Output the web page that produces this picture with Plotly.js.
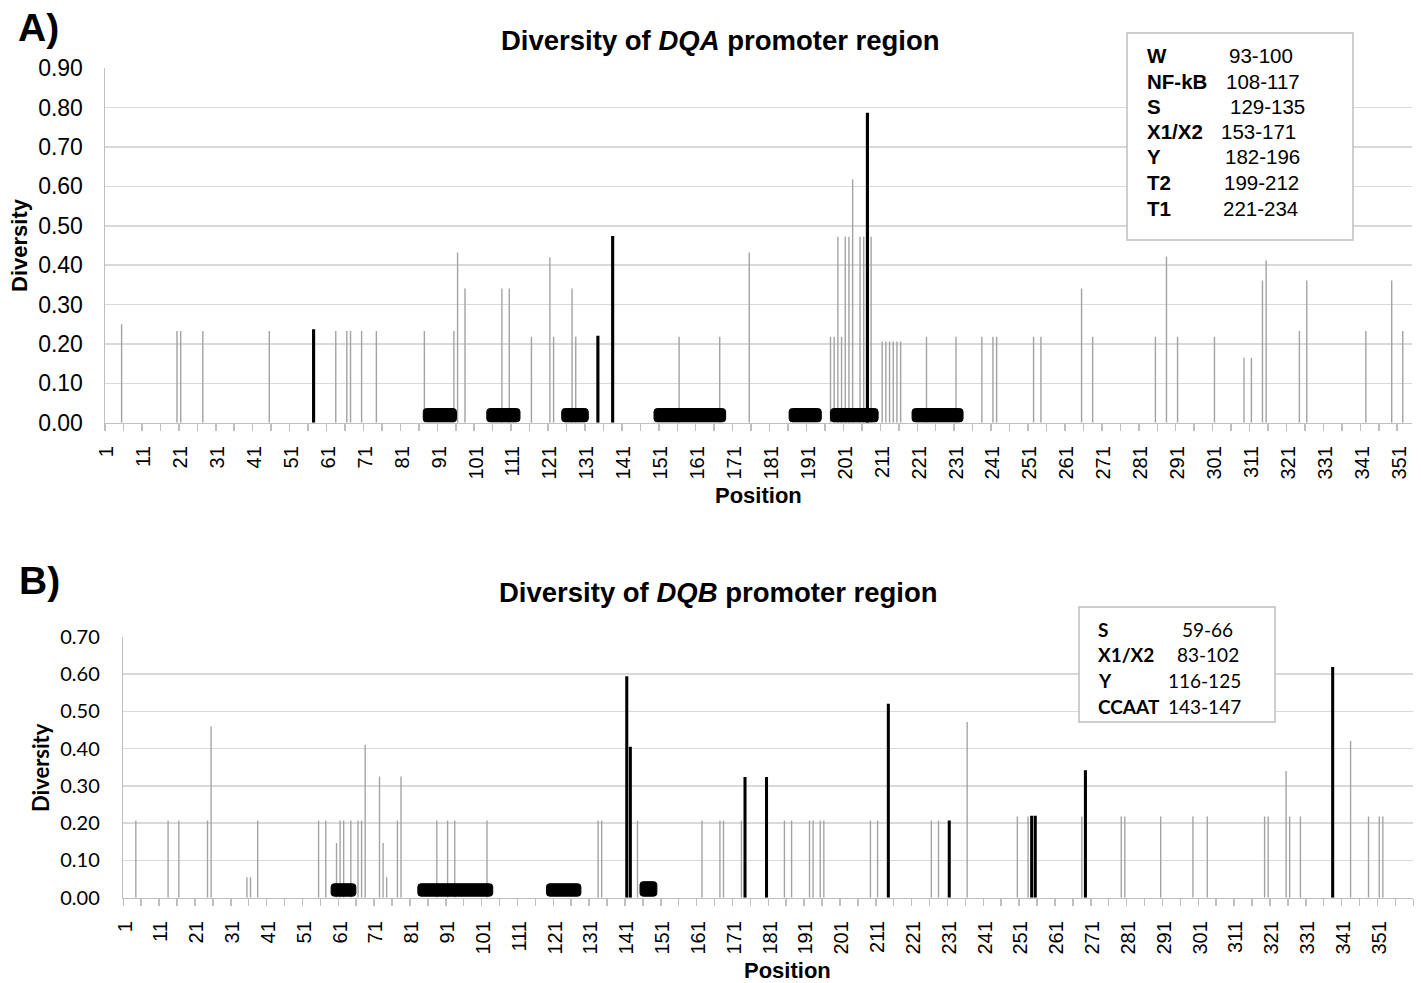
<!DOCTYPE html>
<html>
<head>
<meta charset="utf-8">
<script src="https://cdn.plot.ly/plotly-3.0.1.min.js"></script>
<style>html,body{margin:0;padding:0;background:#fff;}#chart{width:1421px;height:983px;}</style>
</head>
<body>
<div id="chart"></div>
<script>
// ---------- DATA: Panel A (DQA) ----------
const dqaPos = [5,20,21,27,45,63,66,67,70,74,87,95,96,98,108,110,116,121,122,127,128,156,167,175,197,198,199,200,201,202,203,205,206,208,211,212,213,214,215,216,223,231,238,241,242,252,254,265,268,285,288,291,301,309,311,314,315,324,326,342,349,352];
const dqaVal = [0.25,0.233,0.233,0.233,0.233,0.233,0.233,0.233,0.233,0.233,0.233,0.233,0.432,0.341,0.341,0.341,0.218,0.42,0.218,0.341,0.218,0.218,0.218,0.432,0.218,0.218,0.472,0.218,0.472,0.472,0.618,0.472,0.472,0.472,0.206,0.206,0.206,0.206,0.206,0.206,0.218,0.218,0.218,0.218,0.218,0.218,0.218,0.341,0.218,0.218,0.422,0.218,0.218,0.165,0.165,0.361,0.412,0.233,0.361,0.233,0.361,0.233];
const dqaHiPos = [57,134,138,207];
const dqaHiVal = [0.237,0.221,0.474,0.787];
const dqaBoxStart = [86.7,103.9,124.2,149.2,185.8,197.0,219.1];
const dqaBoxEnd   = [95.7,112.9,131.4,168.6,194.5,209.9,232.9];
const dqaElements = ["W","NF-kB","S","X1/X2","Y","T2","T1"];
const dqaRanges   = ["93-100","108-117","129-135","153-171","182-196","199-212","221-234"];

// ---------- DATA: Panel B (DQB) ----------
const dqbPos = [4,13,16,24,25,35,36,38,55,57,60,61,62,64,66,67,68,72,73,74,77,78,88,91,93,102,133,134,144,162,167,168,173,185,187,192,193,195,196,209,211,226,228,236,250,253,268,279,280,290,299,303,319,320,325,326,329,343,348,351,352];
const dqbVal = [0.207,0.207,0.207,0.207,0.46,0.055,0.055,0.207,0.207,0.207,0.147,0.207,0.207,0.207,0.207,0.207,0.41,0.325,0.147,0.055,0.207,0.325,0.207,0.207,0.207,0.207,0.207,0.207,0.207,0.207,0.207,0.207,0.207,0.207,0.207,0.207,0.207,0.207,0.207,0.207,0.207,0.207,0.207,0.471,0.218,0.218,0.218,0.218,0.218,0.218,0.218,0.218,0.218,0.218,0.34,0.218,0.218,0.42,0.218,0.218,0.218];
const dqbHiPos = [141,142,174,180,214,231,254,255,269,338];
const dqbHiVal = [0.594,0.405,0.3235,0.3235,0.52,0.207,0.22,0.22,0.342,0.619];
const dqbBoxStart = [58.5,82.7,118.6,144.7];
const dqbBoxEnd   = [65.4,103.6,128.2,149.4];
const dqbElements = ["S","X1/X2","Y","CCAAT"];
const dqbRanges   = ["59-66","83-102","116-125","143-147"];

// ---------- tick labels ----------
const posTickVals = [1,11,21,31,41,51,61,71,81,91,101,111,121,131,141,151,161,171,181,191,201,211,221,231,241,251,261,271,281,291,301,311,321,331,341,351];
const posTickText = posTickVals.map(String);

// ---------- helpers ----------
const W = 1421, H = 983;
const fx = x => x / W;
const fy = y => 1 - y / H;
const ARIAL = "Liberation Sans, Arial, sans-serif";
const CAL = "Lato, Open Sans, sans-serif";
const GRAY = "#a3a3a3";
const GRID = "#d9d9d9";
const AXL = "#bfbfbf";

function roundedBox(xa, ya, x0, x1, y0, y1, rx, ry) {
  const p = `M ${x0+rx},${y0} L ${x1-rx},${y0} Q ${x1},${y0} ${x1},${y0+ry} L ${x1},${y1-ry} Q ${x1},${y1} ${x1-rx},${y1} L ${x0+rx},${y1} Q ${x0},${y1} ${x0},${y1-ry} L ${x0},${y0+ry} Q ${x0},${y0} ${x0+rx},${y0} Z`;
  return {type:'path', xref:xa, yref:ya, path:p, fillcolor:'#000', line:{color:'#000', width:1}, layer:'above'};
}

const traces = [
  {type:'bar', x:dqaPos, y:dqaVal, width:0.38, marker:{color:GRAY, line:{width:0}}, xaxis:'x', yaxis:'y', hoverinfo:'x+y'},
  {type:'bar', x:dqaHiPos, y:dqaHiVal, width:0.85, marker:{color:'#000', line:{width:0}}, xaxis:'x', yaxis:'y', hoverinfo:'x+y'},
  {type:'bar', x:dqbPos, y:dqbVal, width:0.38, marker:{color:GRAY, line:{width:0}}, xaxis:'x2', yaxis:'y2', hoverinfo:'x+y'},
  {type:'bar', x:dqbHiPos, y:dqbHiVal, width:0.85, marker:{color:'#000', line:{width:0}}, xaxis:'x2', yaxis:'y2', hoverinfo:'x+y'}
];

function xAxis(domain, range, anchor) {
  return {
    domain: domain, range: range, anchor: anchor,
    tickmode:'array', tickvals: posTickVals, ticktext: posTickText,
    tickangle: -90, ticks: '', ticklabelstandoff: 14,
    tickfont: {family: ARIAL, size: 20, color:'#000'},
    showline: true, linecolor: AXL, linewidth: 1.5,
    showgrid: false, zeroline: false,
    minor: {tickmode:'linear', tick0: 0.5, dtick: 5, ticks:'outside', ticklen: 7, tickcolor: AXL, tickwidth: 1.5, showgrid:false}
  };
}
function yAxis(domain, range, anchor, font, standoff) {
  return {
    domain: domain, range: range, anchor: anchor,
    tickmode:'linear', tick0: 0, dtick: 0.1, tickformat: '.2f',
    ticks: '', ticklabelstandoff: standoff,
    tickfont: font,
    showline: true, linecolor: AXL, linewidth: 1.5,
    showgrid: true, gridcolor: GRID, gridwidth: 1.5, zeroline: false
  };
}

const shapes = [];
dqaBoxStart.forEach((s, i) => shapes.push(roundedBox('x','y', s, dqaBoxEnd[i], 0.002, 0.036, 0.9, 0.008)));
dqbBoxStart.forEach((s, i) => shapes.push(roundedBox('x2','y2', s, dqbBoxEnd[i], 0.004, i === 3 ? 0.043 : 0.0375, 0.9, 0.008)));
// legend frames
shapes.push({type:'rect', xref:'paper', yref:'paper', x0:fx(1127), x1:fx(1353), y0:fy(240), y1:fy(33), fillcolor:'#fff', line:{color:AXL, width:1.5}, layer:'above'});
shapes.push({type:'rect', xref:'paper', yref:'paper', x0:fx(1079), x1:fx(1275), y0:fy(722), y1:fy(607), fillcolor:'#fff', line:{color:AXL, width:1.5}, layer:'above'});

const ann = [];
function txt(text, x, y, font, opts) {
  ann.push(Object.assign({text:text, x:fx(x), y:fy(y), xref:'paper', yref:'paper', showarrow:false, font:font, xanchor:'center', yanchor:'middle'}, opts || {}));
}
// panel labels
txt('<b>A)</b>', 38, 27, {family:ARIAL, size:39, color:'#000'});
txt('<b>B)</b>', 39, 580, {family:ARIAL, size:39, color:'#000'});
// titles
txt('<b>Diversity of <i>DQA</i> promoter region</b>', 720, 40, {family:ARIAL, size:27.5, color:'#000'});
txt('<b>Diversity of <i>DQB</i> promoter region</b>', 718, 592, {family:ARIAL, size:27.5, color:'#000'});
// axis titles
txt('<b>Position</b>', 758, 496, {family:ARIAL, size:22, color:'#000'});
txt('<b>Position</b>', 788, 970, {family:ARIAL, size:22, color:'#000'});
txt('<b>Diversity</b>', 19, 245, {family:ARIAL, size:22, color:'#000'}, {textangle:-90});
txt('<b>Diversity</b>', 40, 768, {family:CAL, size:22, color:'#000'}, {textangle:-90});

// legend A
const legAY = [56, 81.5, 106.5, 131.5, 157, 182.5, 208];
const legARangeX = [1261, 1263, 1267, 1258, 1262, 1261, 1260];
dqaElements.forEach((e, i) => {
  txt('<b>' + e + '</b>', 1145, legAY[i], {family:ARIAL, size:20.5, color:'#000'}, {xanchor:'left'});
  txt(dqaRanges[i], legARangeX[i], legAY[i], {family:ARIAL, size:20.5, color:'#000'});
});
// legend B
const legBY = [629, 654.5, 680, 706];
const legBRangeX = [1207, 1208, 1204, 1204];
dqbElements.forEach((e, i) => {
  txt('<b>' + e + '</b>', 1096, legBY[i], {family:CAL, size:19, color:'#000'}, {xanchor:'left'});
  txt(dqbRanges[i], legBRangeX[i], legBY[i], {family:CAL, size:19, color:'#000'});
});

const layout = {
  width: W, height: H, autosize: false,
  margin: {l:0, r:0, t:0, b:0},
  paper_bgcolor:'#fff', plot_bgcolor:'#fff',
  showlegend: false, barmode: 'overlay',
  xaxis: xAxis([fx(105), fx(1412)], [0.5, 354.5], 'y'),
  yaxis: yAxis([fy(422.7), fy(68.3)], [0, 0.9], 'x', {family:ARIAL, size:23, color:'#000'}, 16),
  xaxis2: xAxis([fx(123.3), fx(1413.3)], [0.5, 360.5], 'y2'),
  yaxis2: yAxis([fy(897.7), fy(636.7)], [0, 0.7], 'x2', {family:CAL, size:20, color:'#000'}, 18),
  shapes: shapes,
  annotations: ann
};

Plotly.newPlot('chart', traces, layout, {displayModeBar:false, staticPlot:true});
</script>
</body>
</html>
